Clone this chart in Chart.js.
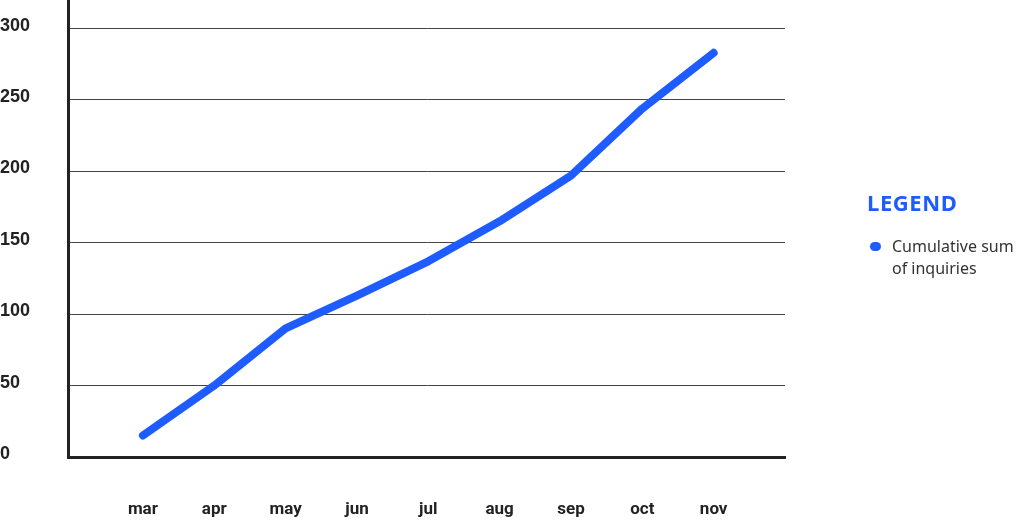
<!DOCTYPE html>
<html>
<head>
<meta charset="utf-8">
<script src="https://cdn.jsdelivr.net/npm/chart.js@4/dist/chart.umd.min.js"></script>
<style>
  html, body { margin: 0; padding: 0; background: #fff; }
  #wrap { position: relative; width: 1024px; height: 520px; }
  #legend { position: absolute; left: 867px; top: 187px; font-family: "Noto Sans", sans-serif; }
  #legend .title { color: #1f5cff; font-weight: 700; font-size: 22px; letter-spacing: 0.6px; }
  #legend .item { position: relative; margin-top: 18px; padding-left: 25px; color: #333; font-size: 16px; line-height: 22px; }
  #legend .dot { position: absolute; left: 3px; top: 7px; width: 11px; height: 9px; border-radius: 5px; }
</style>
</head>
<body>
<div id="wrap">
  <canvas id="chart" width="1024" height="520"></canvas>
  <div id="legend"></div>
</div>
<script>
const months = ["mar", "apr", "may", "jun", "jul", "aug", "sep", "oct", "nov"];
const inquiries = [15, 50, 90, 113, 137, 165, 197, 244, 283];
const yTicks = [0, 50, 100, 150, 200, 250, 300];
const seriesLabel = ["Cumulative sum", "of inquiries"];
const blue = "#1f5cff";

// legend on the right side
const lg = document.getElementById("legend");
lg.innerHTML = '<div class="title">LEGEND</div>' +
  '<div class="item"><span class="dot" style="background:' + blue + '"></span>' +
  seriesLabel.join("<br>") + '</div>';

const ctx = document.getElementById("chart").getContext("2d");
const chart = new Chart(ctx, {
  type: "line",
  data: {
    datasets: [{
      label: seriesLabel.join(" "),
      data: inquiries.map((v, i) => ({ x: i, y: v })),
      borderColor: blue,
      borderWidth: 8,
      borderCapStyle: "round",
      borderJoinStyle: "round",
      pointRadius: 0,
      tension: 0,
      fill: false,
    }],
  },
  options: {
    responsive: false,
    animation: false,
    layout: { padding: { top: 0, right: 239, bottom: 0, left: 0 } },
    plugins: { legend: { display: false }, tooltip: { enabled: false } },
    scales: {
      x: {
        type: "linear",
        min: -1.05,
        max: 9,
        afterBuildTicks: (s) => { s.ticks = months.map((m, i) => ({ value: i })); },
        afterFit: (s) => { s.height = 63; s.paddingLeft = 0; s.paddingRight = 0; },
        grid: { display: false, drawTicks: false },
        border: { color: "#222", width: 3 },
        ticks: {
          autoSkip: false,
          maxRotation: 0,
          padding: 43,
          color: "#222",
          font: { family: "Roboto", weight: "bold", size: 17 },
          callback: (v) => months[v] ?? "",
        },
      },
      y: {
        min: 0,
        max: 320,
        afterBuildTicks: (s) => { s.ticks = yTicks.map((v) => ({ value: v })); },
        afterFit: (s) => { s.width = 68; s.paddingTop = 0; s.paddingBottom = 0; },
        grid: { color: "#444", lineWidth: 1, drawTicks: false },
        border: { color: "#222", width: 3 },
        ticks: {
          crossAlign: "far",
          labelOffset: -3,
          color: "#222",
          font: { family: "Liberation Sans", weight: "bold", size: 18 },
        },
      },
    },
  },
});
</script>
</body>
</html>
